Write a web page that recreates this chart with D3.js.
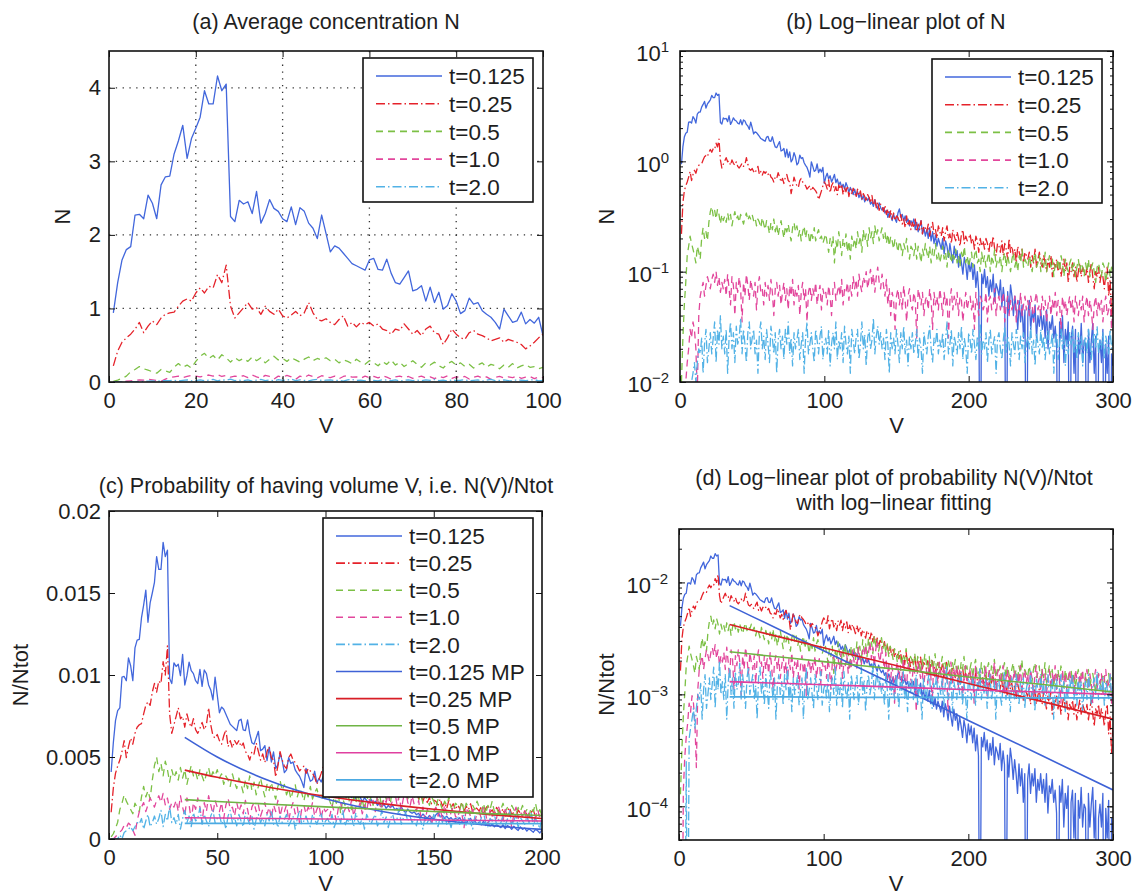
<!DOCTYPE html>
<html><head><meta charset="utf-8">
<script src="https://cdn.jsdelivr.net/npm/d3@7"></script>
<style>
body{margin:0;background:#fff}
text{font-family:"Liberation Sans",Arial,Helvetica,sans-serif;fill:#1e1e1e}
</style>
</head><body>
<svg id="chart" width="1136" height="895"></svg>
<script>
// ---------------- DATA ----------------
const seriesNames = ["t=0.125","t=0.25","t=0.5","t=1.0","t=2.0"];
const mpNames = ["t=0.125 MP","t=0.25 MP","t=0.5 MP","t=1.0 MP","t=2.0 MP"];
// N(V) in thousandths, V = 1..300
const N_t0125 = [
940,1350,1660,1800,1840,2270,2280,2220,2540,2430,
2220,2680,2790,2800,3100,3280,3490,3040,3310,3450,
3600,3960,3780,3780,4160,3960,4050,2250,2180,2470,
2420,2450,2290,2590,2160,2290,2480,2360,2320,2220,
2180,2380,2140,2370,2320,2160,2090,1950,2270,2020,
1770,1850,1820,1750,1680,1610,1580,1550,1520,1660,
1680,1530,1520,1670,1480,1350,1330,1420,1510,1240,
1260,1310,1100,1290,1080,1220,990,1040,1200,1100,
930,970,1140,1060,1080,970,920,880,810,720,
990,900,810,830,950,790,850,800,880,630,
720,780,690,740,650,700,760,640,690,610,
650,580,620,560,640,590,520,580,540,500,
560,490,530,470,510,450,490,430,470,440,
470,410,430,390,450,400,370,420,380,360,
380,340,360,310,350,320,290,330,300,280,
340,370,310,330,290,320,280,300,260,290,
270,300,240,280,230,260,290,220,250,210,
240,200,250,190,230,180,215,170,200,180,
160,200,145,190,170,135,180,145,120,170,
135,155,110,145,120,95,135,115,85,125,
100,120,85,115,72,100,65,0,95,78,
105,72,90,60,84,66,95,54,78,70,
60,84,48,72,54,0,66,42,76,60,
40,60,45,30,55,35,50,25,45,0,
40,55,30,45,35,50,25,40,32,45,
30,40,25,45,20,35,30,40,25,32,
20,0,35,25,40,15,30,22,35,0,
25,32,12,30,0,26,18,34,15,24,
22,0,30,15,24,34,12,26,0,18,
24,15,30,0,22,12,26,0,18,14];
const N_t025 = [
220,420,540,600,650,720,810,670,760,830,
780,870,920,940,950,1030,1100,1130,1100,1210,
1280,1210,1300,1280,1460,1350,1590,1030,870,940,
1010,1080,990,1010,920,1030,960,920,990,900,
870,910,960,900,940,1080,940,850,830,860,
810,780,850,900,760,810,750,810,780,810,
760,790,720,700,650,720,700,790,720,650,
700,630,720,760,670,650,510,600,720,650,
600,580,670,700,650,630,600,560,580,600,
540,580,560,540,510,450,490,540,600,650,
620,560,680,520,600,640,540,590,500,610,
560,620,500,580,530,600,480,560,510,570,
520,470,560,490,540,450,510,480,430,500,
470,420,490,400,450,380,430,360,410,390,
350,400,330,370,310,360,300,340,290,320,
310,280,330,270,300,250,320,260,290,240,
280,250,300,230,270,240,290,220,260,250,
230,270,210,250,280,220,240,200,260,230,
210,250,190,230,260,200,220,180,240,210,
190,230,200,170,220,240,180,210,190,200,
220,180,200,160,210,190,150,200,170,190,
160,200,180,150,190,170,210,160,140,180,
170,150,190,140,180,160,130,200,150,170,
140,160,120,170,150,130,160,120,150,140,
130,150,110,140,120,160,110,130,150,120,
110,140,120,100,130,110,140,90,120,110,
130,100,120,90,110,130,100,120,80,110,
100,120,90,110,80,100,120,90,110,100,
90,110,80,100,120,90,70,100,90,110,
80,100,90,70,95,110,60,85,40,70];
const N_t05 = [
10,25,50,80,140,170,210,180,160,140,
120,170,150,130,200,250,200,230,190,280,
350,390,320,360,300,370,330,270,330,290,
320,280,340,290,330,260,310,350,300,320,
280,330,300,270,310,340,290,320,300,330,
290,310,260,300,280,250,310,270,240,290,
260,220,280,240,300,230,270,210,250,290,
240,200,260,230,270,220,190,250,280,230,
260,210,240,190,230,260,200,240,220,180,
230,200,250,190,220,240,200,210,180,200,
220,180,150,200,170,210,120,190,160,230,
180,140,200,170,220,150,190,130,210,170,
200,160,230,180,210,150,240,190,220,170,
250,200,230,180,260,210,240,190,220,250,
200,230,180,220,170,210,190,160,200,180,
150,190,170,140,180,160,200,150,130,170,
160,140,180,130,170,150,120,160,140,180,
150,130,170,120,160,140,180,130,150,120,
140,170,130,150,110,160,140,120,150,130,
160,120,140,110,150,130,170,120,140,110,
130,150,110,140,160,120,130,100,150,120,
140,110,130,150,100,140,120,160,110,130,
120,140,100,130,150,110,140,120,100,130,
150,110,130,100,140,120,160,110,130,120,
110,140,120,100,130,150,110,120,140,100,
130,110,150,100,120,140,110,130,90,120,
110,130,100,140,120,90,130,110,100,120,
130,100,120,90,110,130,100,120,110,90,
120,100,130,90,110,120,100,80,110,120,
100,90,120,110,80,100,120,90,110,100];
const N_t1 = [
0,0,5,10,15,20,30,25,35,30,
20,8,40,60,70,80,60,75,90,80,
70,85,95,80,100,75,90,65,80,70,
85,60,95,70,50,90,75,40,80,65,
90,70,35,80,60,95,75,55,85,70,
60,80,45,75,90,65,70,50,80,60,
75,55,85,65,40,70,80,60,75,50,
65,80,55,70,45,75,60,85,50,70,
60,75,40,65,80,55,70,35,65,75,
55,70,60,80,50,65,75,45,70,60,
65,50,75,60,40,70,80,55,65,75,
60,85,50,70,65,80,55,75,60,90,
70,85,60,95,75,65,90,80,100,70,
85,105,75,95,65,90,110,80,70,95,
75,60,85,50,70,40,65,55,30,60,
70,50,65,45,75,55,35,60,70,50,
45,65,55,25,70,60,50,65,40,55,
60,45,70,55,30,65,50,60,45,70,
55,40,65,50,60,25,55,70,45,60,
50,65,40,60,55,35,50,65,45,55,
60,45,55,30,65,50,40,60,55,45,
50,65,35,55,60,45,50,70,40,55,
60,45,55,65,35,50,60,40,55,45,
50,60,35,55,45,65,40,50,60,45,
55,40,60,50,35,55,65,45,50,40,
60,45,55,35,50,60,40,55,45,65,
40,55,50,30,60,45,55,40,50,60,
45,55,35,60,50,40,55,45,60,35,
50,60,40,55,45,30,50,60,40,55,
45,55,35,50,60,40,45,55,30,50];
const N_t2 = [
0,0,0,0,5,0,8,10,12,15,
10,15,20,18,25,12,22,30,15,20,
28,18,25,35,15,30,22,40,20,26,
18,30,12,25,35,20,28,15,32,22,
25,38,18,30,22,15,28,35,20,25,
30,18,24,12,28,35,20,26,16,30,
22,15,32,25,18,28,12,24,30,20,
26,16,30,22,35,18,25,14,28,20,
24,30,16,22,28,12,25,35,18,22,
28,20,15,30,24,18,26,32,16,22,
25,18,30,14,22,28,20,35,16,24,
20,28,15,32,22,18,26,12,30,24,
18,25,30,16,22,35,20,27,14,25,
30,20,24,38,18,26,32,22,28,20,
25,16,30,22,12,28,20,25,18,30,
22,15,28,20,32,18,24,14,26,20,
28,18,22,30,16,25,20,12,28,22,
18,26,32,20,15,25,22,30,18,24,
20,28,16,24,35,18,22,30,14,26,
22,18,28,20,32,16,25,20,12,28,
24,18,30,22,16,26,20,34,18,24,
20,28,15,24,30,18,22,26,12,25,
28,20,16,24,32,18,26,22,14,28,
22,18,30,24,16,26,20,28,15,22,
26,20,32,18,24,14,28,22,18,30,
20,26,16,24,30,18,22,28,12,24,
28,16,22,30,20,26,14,24,18,28,
22,30,18,24,16,28,20,26,14,22,
26,18,30,22,16,24,28,20,32,18,
24,20,28,16,26,22,18,30,20,24];
// total number used for N(V)/Ntot, per series
const Ntot = [230, 135, 78, 36, 20];
// MP (model prediction) fit lines: probability at knots of V
const mpV = [35, 50, 75, 100, 125, 150, 175, 200, 250, 300];
const mp_t0125 = [6.2e-3,5.0e-3,3.5e-3,2.45e-3,1.71e-3,1.2e-3,8.4e-4,5.85e-4,2.87e-4,1.4e-4];
const mp_t025  = [4.2e-3,3.76e-3,3.13e-3,2.61e-3,2.17e-3,1.81e-3,1.5e-3,1.25e-3,8.7e-4,6.0e-4];
const mp_t05   = [2.4e-3,2.29e-3,2.12e-3,1.96e-3,1.81e-3,1.68e-3,1.55e-3,1.43e-3,1.23e-3,1.05e-3];
const mp_t1    = [1.3e-3,1.28e-3,1.25e-3,1.22e-3,1.19e-3,1.16e-3,1.13e-3,1.1e-3,1.05e-3,1.0e-3];
const mp_t2    = [9.5e-4,9.5e-4,9.5e-4,9.4e-4,9.4e-4,9.4e-4,9.4e-4,9.4e-4,9.3e-4,9.3e-4];
// tick values
const ticksA_x = [0,20,40,60,80,100], ticksA_y = [0,1,2,3,4];
const ticksB_x = [0,100,200,300], ticksB_y = [1e-2,1e-1,1e0,1e1];
const ticksC_x = [0,50,100,150,200], ticksC_y = [0,0.005,0.01,0.015,0.02];
const ticksD_x = [0,100,200,300], ticksD_y = [1e-4,1e-3,1e-2];

// ---------------- STYLE ----------------
const colors = ["#4267dc","#e5222a","#7cc045","#e2479c","#52b2e6"];
const mpColors = ["#3e62d6","#d81e26","#6fb444","#e040a0","#4caae2"];
const dashes = [null,"9,3,1.5,3","7,5","7,5","9,3,1.5,3"];
const allN = [N_t0125,N_t025,N_t05,N_t1,N_t2];
const allMP = [mp_t0125,mp_t025,mp_t05,mp_t1,mp_t2];

const svg = d3.select("#chart");
svg.append("rect").attr("width",1136).attr("height",895).attr("fill","#fff");
const FONT = 22;

function supLabel(sel){
  sel.each(function(d){
    const t = d3.select(this);
    const e = Math.round(Math.log10(d));
    t.text("");
    t.append("tspan").text("10");
    t.append("tspan").attr("dy","-0.6em").attr("font-size",15).text(e<0?"\u2212"+(-e):String(e));
  });
}

function panel(cfg){
  const {id,x0,x1,y0,y1} = cfg;
  const x = d3.scaleLinear().domain(cfg.xd).range([x0,x1]);
  const y = (cfg.log ? d3.scaleLog() : d3.scaleLinear()).domain(cfg.yd).range([y1,y0]);
  svg.append("clipPath").attr("id","clip"+id).append("rect")
     .attr("x",x0).attr("y",y0).attr("width",x1-x0).attr("height",y1-y0);
  const g = svg.append("g");
  if (cfg.grid){
    const gg = g.append("g").attr("stroke","#333").attr("stroke-width",1.3).attr("stroke-dasharray","1.3,5.5");
    cfg.xt.filter(v=>v>cfg.xd[0]&&v<cfg.xd[1]).forEach(v=>gg.append("line").attr("x1",x(v)).attr("x2",x(v)).attr("y1",y0).attr("y2",y1));
    cfg.yt.filter(v=>v>cfg.yd[0]&&v<cfg.yd[1]).forEach(v=>gg.append("line").attr("y1",y(v)).attr("y2",y(v)).attr("x1",x0).attr("x2",x1));
  }
  const plot = g.append("g").attr("clip-path",`url(#clip${id})`);
  const floor = cfg.log ? cfg.yd[0]/30 : -1;
  cfg.lines.forEach(L=>{
    const line = d3.line().curve(L.curve||d3.curveLinear)
      .x(d=>x(d[0])).y(d=>y(cfg.log ? Math.max(d[1],floor) : d[1]));
    plot.append("path").attr("d",line(L.pts)).attr("fill","none")
      .attr("stroke",L.color).attr("stroke-width",L.w||1.3)
      .attr("stroke-dasharray",L.dash).attr("stroke-linejoin","round");
  });
  const styleAxis = a => { a.select(".domain").remove(); a.attr("font-size",FONT).attr("font-family","Liberation Sans, Arial, sans-serif");
    a.selectAll("line").attr("stroke","#111").attr("stroke-width",1); a.selectAll("text").attr("fill","#1e1e1e"); };
  const bx = g.append("g").attr("transform",`translate(0,${y1})`)
     .call(d3.axisBottom(x).tickValues(cfg.xt).tickSize(-6).tickPadding(10).tickFormat(d3.format("d")));
  styleAxis(bx);
  const tx = g.append("g").attr("transform",`translate(0,${y0})`)
     .call(d3.axisTop(x).tickValues(cfg.xt).tickSize(-6).tickFormat(""));
  styleAxis(tx);
  if (cfg.log){
    const minor = y.ticks().filter(v=>v>=cfg.yd[0]&&v<=cfg.yd[1]);
    [[d3.axisLeft,x0],[d3.axisRight,x1]].forEach(([ax,pos])=>{
      const m = g.append("g").attr("transform",`translate(${pos},0)`).call(ax(y).tickValues(minor).tickSize(-3).tickFormat(""));
      styleAxis(m);
    });
  }
  const ly = g.append("g").attr("transform",`translate(${x0},0)`)
     .call(d3.axisLeft(y).tickValues(cfg.yt).tickSize(-6).tickPadding(cfg.log?11:8).tickFormat(cfg.log? (d=>"") : (d=> d===0?"0":String(d))));
  styleAxis(ly);
  if (cfg.log){ ly.selectAll(".tick text").attr("dy","0.45em").call(supLabel); }
  const ry = g.append("g").attr("transform",`translate(${x1},0)`)
     .call(d3.axisRight(y).tickValues(cfg.yt).tickSize(-6).tickFormat(""));
  styleAxis(ry);
  g.append("rect").attr("x",x0).attr("y",y0).attr("width",x1-x0).attr("height",y1-y0)
   .attr("fill","none").attr("stroke","#111").attr("stroke-width",1.6);
  cfg.title.forEach((t,i)=>svg.append("text").attr("x",cfg.tx).attr("y",cfg.ty+i*25)
     .attr("text-anchor","middle").attr("font-size",21.5).text(t));
  svg.append("text").attr("x",(x0+x1)/2).attr("y",cfg.xly).attr("text-anchor","middle").attr("font-size",FONT).text("V");
  svg.append("text").attr("transform",`translate(${cfg.ylx},${(y0+y1)/2}) rotate(-90)`)
     .attr("text-anchor","middle").attr("font-size",FONT).text(cfg.ylabel);
  if (cfg.legend){
    const Lg = cfg.legend;
    const lg = svg.append("g");
    lg.append("rect").attr("x",Lg.x).attr("y",Lg.y).attr("width",Lg.w).attr("height",Lg.h)
      .attr("fill","#fff").attr("stroke","#111").attr("stroke-width",1.6);
    Lg.items.forEach((it,i)=>{
      const yy = Lg.y + Lg.first + i*Lg.step;
      lg.append("line").attr("x1",Lg.x+13).attr("x2",Lg.x+79).attr("y1",yy).attr("y2",yy)
        .attr("stroke",it.color).attr("stroke-width",it.w||1.6).attr("stroke-dasharray",it.dash);
      lg.append("text").attr("x",Lg.x+86).attr("y",yy).attr("dy","0.36em").attr("font-size",22.5).text(it.name);
    });
  }
}

const Vs = d3.range(1,301);
const nLines = (div, maxV) => allN.map((arr,i)=>({
  pts: arr.map((v,k)=>[Vs[k], v/1000/(div?Ntot[i]:1)]).filter(d=>d[0]<=maxV+1),
  color: colors[i], dash: dashes[i]}));
const mpLines = (curve) => allMP.map((arr,i)=>({
  pts: arr.map((v,k)=>[mpV[k],v]), color: mpColors[i], dash:null, w:1.6, curve}));
const legendMain = seriesNames.map((n,i)=>({name:n,color:colors[i],dash:dashes[i]}));

panel({id:"a",x0:109,x1:543,y0:51,y1:382,xd:[0,100],yd:[0,4.5],xt:ticksA_x,yt:ticksA_y,grid:true,
  lines:nLines(false,100),title:["(a) Average concentration N"],tx:326,ty:29,xly:433,ylx:70,ylabel:"N",
  legend:{x:363,y:58,w:170,h:144,first:18,step:27.7,items:legendMain}});
panel({id:"b",x0:680,x1:1113,y0:51,y1:382,xd:[0,300],yd:[1e-2,10],xt:ticksB_x,yt:ticksB_y,log:true,
  lines:nLines(false,300),title:["(b) Log\u2212linear plot of N"],tx:896,ty:29,xly:433,ylx:614,ylabel:"N",
  legend:{x:932,y:59,w:170,h:144,first:18,step:27.7,items:legendMain}});
panel({id:"c",x0:109,x1:542,y0:511,y1:839,xd:[0,200],yd:[0,0.02],xt:ticksC_x,yt:ticksC_y,
  lines:nLines(true,200).concat(mpLines(d3.curveMonotoneX)),
  title:["(c) Probability of having volume V, i.e. N(V)/Ntot"],tx:326,ty:493,xly:891,ylx:28,ylabel:"N/Ntot",
  legend:{x:323,y:518,w:210,h:279,first:18,step:27.1,
    items:legendMain.concat(mpNames.map((n,i)=>({name:n,color:mpColors[i],dash:null})))}});
panel({id:"d",x0:679,x1:1113,y0:529,y1:840,xd:[0,300],yd:[5e-5,0.03],xt:ticksD_x,yt:ticksD_y,log:true,
  lines:nLines(true,300).concat(mpLines(d3.curveLinear)),
  title:["(d) Log\u2212linear plot of probability N(V)/Ntot","with log\u2212linear fitting"],tx:894,ty:485,xly:891,ylx:614,ylabel:"N/Ntot"});
</script>
</body></html>
